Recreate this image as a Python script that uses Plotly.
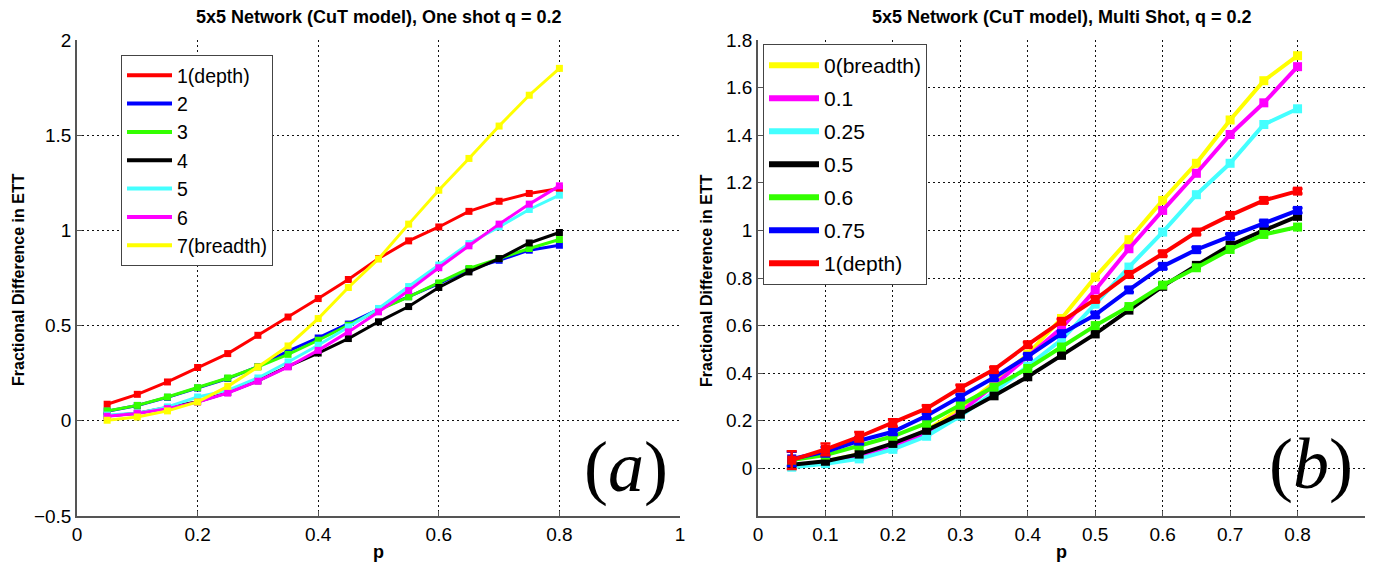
import plotly.graph_objects as go

# ---------------- data ----------------
p_vals = [0.05, 0.1, 0.15, 0.2, 0.25, 0.3, 0.35, 0.4, 0.45, 0.5, 0.55, 0.6, 0.65, 0.7, 0.75, 0.8]

# Panel (a): One shot
a_names = ["1(depth)", "2", "3", "4", "5", "6", "7(breadth)"]
a_red = [0.087, 0.139, 0.204, 0.28, 0.353, 0.449, 0.545, 0.642, 0.742, 0.852, 0.945, 1.018, 1.10, 1.153, 1.194, 1.22]
a_blue = [0.05, 0.08, 0.123, 0.172, 0.222, 0.285, 0.366, 0.435, 0.508, 0.585, 0.652, 0.721, 0.795, 0.843, 0.896, 0.922]
a_green = [0.052, 0.081, 0.125, 0.174, 0.225, 0.283, 0.349, 0.423, 0.502, 0.581, 0.651, 0.724, 0.80, 0.852, 0.905, 0.952]
a_black = [0.025, 0.04, 0.07, 0.10, 0.148, 0.21, 0.286, 0.356, 0.432, 0.52, 0.60, 0.70, 0.782, 0.852, 0.934, 0.989]
a_cyan = [0.03, 0.04, 0.073, 0.125, 0.16, 0.225, 0.309, 0.397, 0.493, 0.59, 0.705, 0.818, 0.931, 1.018, 1.11, 1.185]
a_magenta = [0.024, 0.038, 0.064, 0.099, 0.146, 0.208, 0.283, 0.37, 0.467, 0.572, 0.684, 0.804, 0.919, 1.033, 1.138, 1.234]
a_yellow = [0.003, 0.02, 0.052, 0.099, 0.181, 0.283, 0.393, 0.537, 0.70, 0.85, 1.033, 1.211, 1.378, 1.548, 1.71, 1.851]

# Panel (b): Multi shot
b_names = ["0(breadth)", "0.1", "0.25", "0.5", "0.6", "0.75", "1(depth)"]
b_yellow = [0.01, 0.03, 0.06, 0.10, 0.16, 0.25, 0.36, 0.48, 0.63, 0.804, 0.961, 1.126, 1.282, 1.464, 1.629, 1.734]
b_magenta = [0.01, 0.025, 0.05, 0.09, 0.15, 0.235, 0.35, 0.47, 0.59, 0.75, 0.923, 1.084, 1.24, 1.403, 1.536, 1.688]
b_cyan = [0.005, 0.02, 0.04, 0.08, 0.135, 0.22, 0.32, 0.43, 0.54, 0.69, 0.846, 0.993, 1.15, 1.282, 1.445, 1.511]
b_black = [0.015, 0.03, 0.06, 0.105, 0.16, 0.228, 0.305, 0.385, 0.475, 0.565, 0.665, 0.765, 0.853, 0.937, 1.0, 1.059]
b_green = [0.035, 0.056, 0.095, 0.135, 0.19, 0.266, 0.342, 0.42, 0.51, 0.60, 0.68, 0.77, 0.843, 0.92, 0.983, 1.014]
b_blue = [0.04, 0.07, 0.116, 0.154, 0.221, 0.30, 0.382, 0.471, 0.566, 0.645, 0.75, 0.849, 0.919, 0.975, 1.031, 1.084]
b_red = [0.035, 0.08, 0.133, 0.191, 0.252, 0.338, 0.415, 0.52, 0.618, 0.71, 0.815, 0.902, 0.993, 1.063, 1.126, 1.165]
b_red_err = [0.037, 0.025, 0.02, 0.015, 0.012, 0.012, 0.01, 0.01, 0.01, 0.01, 0.01, 0.01, 0.01, 0.01, 0.01, 0.01]
b_blue_err = [0.03, 0.02, 0.015, 0.012, 0.01, 0.01, 0.01, 0.01, 0.01, 0.01, 0.01, 0.01, 0.01, 0.01, 0.01, 0.01]

a_xticks = [0, 0.2, 0.4, 0.6, 0.8, 1]
a_xlabels = ["0", "0.2", "0.4", "0.6", "0.8", "1"]
a_yticks = [-0.5, 0, 0.5, 1, 1.5, 2]
a_ylabels = ["\u22120.5", "0", "0.5", "1", "1.5", "2"]
b_xticks = [0, 0.1, 0.2, 0.3, 0.4, 0.5, 0.6, 0.7, 0.8]
b_xlabels = ["0", "0.1", "0.2", "0.3", "0.4", "0.5", "0.6", "0.7", "0.8"]
b_yticks = [0, 0.2, 0.4, 0.6, 0.8, 1, 1.2, 1.4, 1.6, 1.8]
b_ylabels = ["0", "0.2", "0.4", "0.6", "0.8", "1", "1.2", "1.4", "1.6", "1.8"]

# ---------------- style ----------------
RED, BLUE, GREEN, BLACK = "#ff0000", "#0000ff", "#33ff00", "#000000"
CYAN, MAGENTA, YELLOW = "#44ffff", "#ff00ff", "#ffff00"
FONT = "Liberation Sans, Arial, sans-serif"

# page body has an 8px margin; figure is sized so the page fits the window
OFF = 8
W, H = 1360, 556


def fx(px):
    return (px - OFF) / W


def fy(py):
    return 1 - (py - OFF) / H


fig = go.Figure()

a_series = [a_red, a_blue, a_green, a_black, a_cyan, a_magenta, a_yellow]
a_colors = [RED, BLUE, GREEN, BLACK, CYAN, MAGENTA, YELLOW]
for i, (name, ys, col) in enumerate(zip(a_names, a_series, a_colors)):
    fig.add_trace(go.Scatter(
        x=p_vals, y=ys, name=name, mode="lines+markers",
        line=dict(color=col, width=3),
        marker=dict(symbol="square", size=7, color=col),
        xaxis="x", yaxis="y", showlegend=False,
    ))
# legend-only line samples (lines without markers, as in the reference)
for i, (name, col) in enumerate(zip(a_names, a_colors)):
    fig.add_trace(go.Scatter(
        x=[None], y=[None], name=name, mode="lines",
        line=dict(color=col, width=4),
        xaxis="x", yaxis="y", legend="legend", legendgroup="a%d" % i,
    ))

b_series = [b_yellow, b_magenta, b_cyan, b_black, b_green, b_blue, b_red]
b_colors = [YELLOW, MAGENTA, CYAN, BLACK, GREEN, BLUE, RED]
b_errs = [None, None, None, None, None, b_blue_err, b_red_err]
for i, (name, ys, col, err) in enumerate(zip(b_names, b_series, b_colors, b_errs)):
    kw = {}
    if err is not None:
        kw["error_y"] = dict(type="data", array=err, visible=True, color=col, thickness=2.5, width=5)
    fig.add_trace(go.Scatter(
        x=p_vals, y=ys, name=name, mode="lines+markers",
        line=dict(color=col, width=4),
        marker=dict(symbol="square", size=9, color=col),
        xaxis="x2", yaxis="y2", showlegend=False, **kw
    ))
for i, (name, col) in enumerate(zip(b_names, b_colors)):
    fig.add_trace(go.Scatter(
        x=[None], y=[None], name=name, mode="lines",
        line=dict(color=col, width=6),
        xaxis="x2", yaxis="y2", legend="legend2", legendgroup="b%d" % i,
    ))

axis_common = dict(
    showline=True, linecolor="#555555", linewidth=1.5, mirror=False,
    showgrid=True, gridcolor="#111111", gridwidth=1.2, griddash="1.5px,3.5px",
    zeroline=False, ticks="inside", ticklen=5, tickcolor="#555555",
    tickfont=dict(family=FONT, size=19, color="#000000"),
    automargin=False,
)

ydom = [fy(516), fy(40)]
ax_l, ax_r = fx(77), fx(680)
bx_l, bx_r = fx(758), fx(1365)

fig.update_layout(
    width=W, height=H,
    margin=dict(l=0, r=0, t=0, b=0),
    paper_bgcolor="white", plot_bgcolor="white",
    xaxis=dict(domain=[ax_l, ax_r], range=[0, 1], tickvals=a_xticks, ticktext=a_xlabels,
               anchor="y", **axis_common),
    yaxis=dict(domain=ydom, range=[-0.5, 2], tickvals=a_yticks, ticktext=a_ylabels,
               anchor="x", **axis_common),
    xaxis2=dict(domain=[bx_l, bx_r], range=[0, 0.9], tickvals=b_xticks, ticktext=b_xlabels,
                anchor="y2", **axis_common),
    yaxis2=dict(domain=ydom, range=[-0.2, 1.8], tickvals=b_yticks, ticktext=b_ylabels,
                anchor="x2", **axis_common),
    legend=dict(x=fx(121), y=fy(55), xanchor="left", yanchor="top",
                bgcolor="white", bordercolor="#444444", borderwidth=1,
                font=dict(family=FONT, size=19.5, color="#000000"),
                traceorder="normal", itemwidth=45),
    legend2=dict(x=fx(763), y=fy(44), xanchor="left", yanchor="top",
                 bgcolor="white", bordercolor="#444444", borderwidth=1,
                 font=dict(family=FONT, size=21, color="#000000"),
                 tracegroupgap=2.7, traceorder="grouped", itemwidth=50),
    showlegend=True,
)

title_font = dict(family=FONT, size=18, color="#000000")
ytitle_font = dict(family=FONT, size=16, color="#000000")
xtitle_font = dict(family=FONT, size=18, color="#000000")
anns = []
for txt, xc in [("<b>5x5 Network (CuT model), One shot q = 0.2</b>", (ax_l + ax_r) / 2),
                ("<b>5x5 Network (CuT model), Multi Shot, q = 0.2</b>", (bx_l + bx_r) / 2)]:
    anns.append(dict(text=txt, xref="paper", yref="paper", x=xc, y=fy(17),
                     xanchor="center", yanchor="middle", showarrow=False, font=title_font))
for xc in [(ax_l + ax_r) / 2, (bx_l + bx_r) / 2]:
    anns.append(dict(text="<b>p</b>", xref="paper", yref="paper", x=xc, y=fy(552),
                     xanchor="center", yanchor="middle", showarrow=False, font=xtitle_font))
for xp in [18, 706]:
    anns.append(dict(text="<b>Fractional Difference in ETT</b>", xref="paper", yref="paper",
                     x=fx(xp), y=fy(280), xanchor="center", yanchor="middle", textangle=-90,
                     showarrow=False, font=ytitle_font))
anns.append(dict(text="(<i>a</i>)", xref="paper", yref="paper", x=fx(626), y=fy(467),
                 xanchor="center", yanchor="middle", showarrow=False,
                 font=dict(family="Liberation Serif, serif", size=72, color="#000000")))
anns.append(dict(text="(<i>b</i>)", xref="paper", yref="paper", x=fx(1311), y=fy(464),
                 xanchor="center", yanchor="middle", showarrow=False,
                 font=dict(family="Liberation Serif, serif", size=72, color="#000000")))
fig.update_layout(annotations=anns)

fig.write_html("out.html")
